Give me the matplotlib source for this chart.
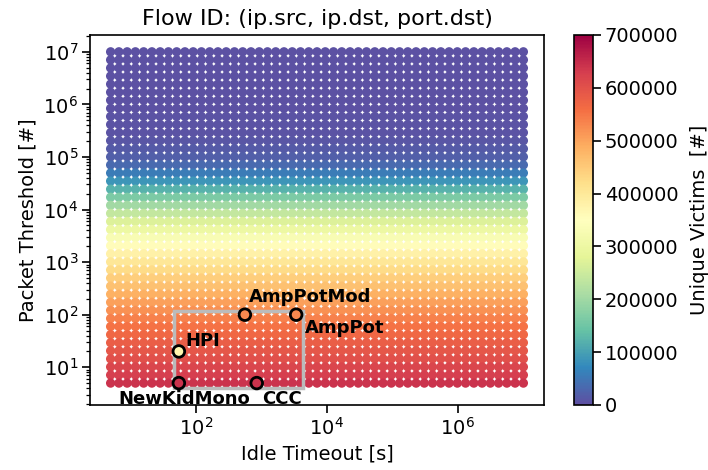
import numpy as np
import matplotlib.pyplot as plt
from matplotlib.patches import Rectangle
from matplotlib.ticker import FixedLocator, NullLocator

# grid of idle timeouts [s] and packet thresholds [#]
idle_timeouts = np.geomspace(5, 1e7, 51)
pkt_thresholds = np.geomspace(1e7, 5, 42)  # top -> bottom

# unique victims per packet-threshold row (top -> bottom)
row_victims = [3000, 3000, 3000, 3000, 3500, 4000, 4500, 5000, 6000, 7000,
               8000, 10000, 14000, 21000, 34000, 55000, 85000, 122000, 163000, 202000,
               238000, 270000, 300000, 330000, 357000, 382000, 404000, 424000, 444000, 464000,
               484000, 504000, 522000, 538000, 553000, 567000, 580000, 592000, 604000, 616000,
               628000, 640000]

# known booter / honeypot configurations
cfg_names = ['HPI', 'NewKidMono', 'CCC', 'AmpPotMod', 'AmpPot']
cfg_timeout = [55, 55, 850, 560, 3400]
cfg_thresh = [20, 5, 5, 100, 100]
cfg_victims = [370000, 640000, 640000, 530000, 530000]

X, Y = np.meshgrid(idle_timeouts, pkt_thresholds)
Z = np.repeat(np.array(row_victims)[:, None], len(idle_timeouts), axis=1)

plt.rcParams['axes.linewidth'] = 1.2

fig = plt.figure(figsize=(7.08, 4.7), dpi=100)
ax = fig.add_axes([90/708, 1-405/470, 454/708, (405-35)/470])
cax = fig.add_axes([574/708, 1-405/470, 19/708, (405-35)/470])

sc = ax.scatter(X.ravel(), Y.ravel(), c=Z.ravel(), cmap='Spectral_r',
                vmin=0, vmax=700000, s=45, edgecolors='none')
ax.set_xscale('log')
ax.set_yscale('log')
ax.xaxis.set_major_locator(FixedLocator([1e2, 1e4, 1e6]))
ax.xaxis.set_minor_locator(NullLocator())

# box around the configs
x0, x1 = min(cfg_timeout)*0.85, max(cfg_timeout)*1.25
y0, y1 = min(cfg_thresh)*0.8, max(cfg_thresh)*1.2
ax.add_patch(Rectangle((x0, y0), x1-x0, y1-y0, fill=False, ec='#bbbbbb', lw=2.5, zorder=3))

ax.scatter(cfg_timeout, cfg_thresh, c=cfg_victims, cmap='Spectral_r', vmin=0, vmax=700000,
           s=70, edgecolors='black', linewidths=2, zorder=4)

offsets = {'HPI': (5, 1, 'left', 'bottom'),
           'NewKidMono': (4, -5, 'center', 'top'),
           'CCC': (4, -5, 'left', 'top'),
           'AmpPotMod': (3, 6, 'left', 'bottom'),
           'AmpPot': (6, -3, 'left', 'top')}
for n, xx, yy in zip(cfg_names, cfg_timeout, cfg_thresh):
    dx, dy, ha, va = offsets[n]
    ax.annotate(n, (xx, yy), xytext=(dx, dy), textcoords='offset points',
                ha=ha, va=va, fontsize=13, fontweight='bold', zorder=5)

ax.set_title('Flow ID: (ip.src, ip.dst, port.dst)', fontsize=16, pad=7)
ax.set_xlabel('Idle Timeout [s]', fontsize=14)
ax.set_ylabel('Packet Threshold [#]', fontsize=14)
ax.tick_params(which='major', labelsize=14, length=5.5, width=1.2, pad=3)
ax.tick_params(which='minor', length=3, width=0.9)

cb = fig.colorbar(sc, cax=cax)
cb.set_ticks(np.arange(0, 700001, 100000))
cb.ax.tick_params(labelsize=14, length=5.5, width=1.2, pad=3)
cb.set_label('Unique Victims  [#]', fontsize=14, labelpad=8)

fig.savefig('out.png', dpi=100)
